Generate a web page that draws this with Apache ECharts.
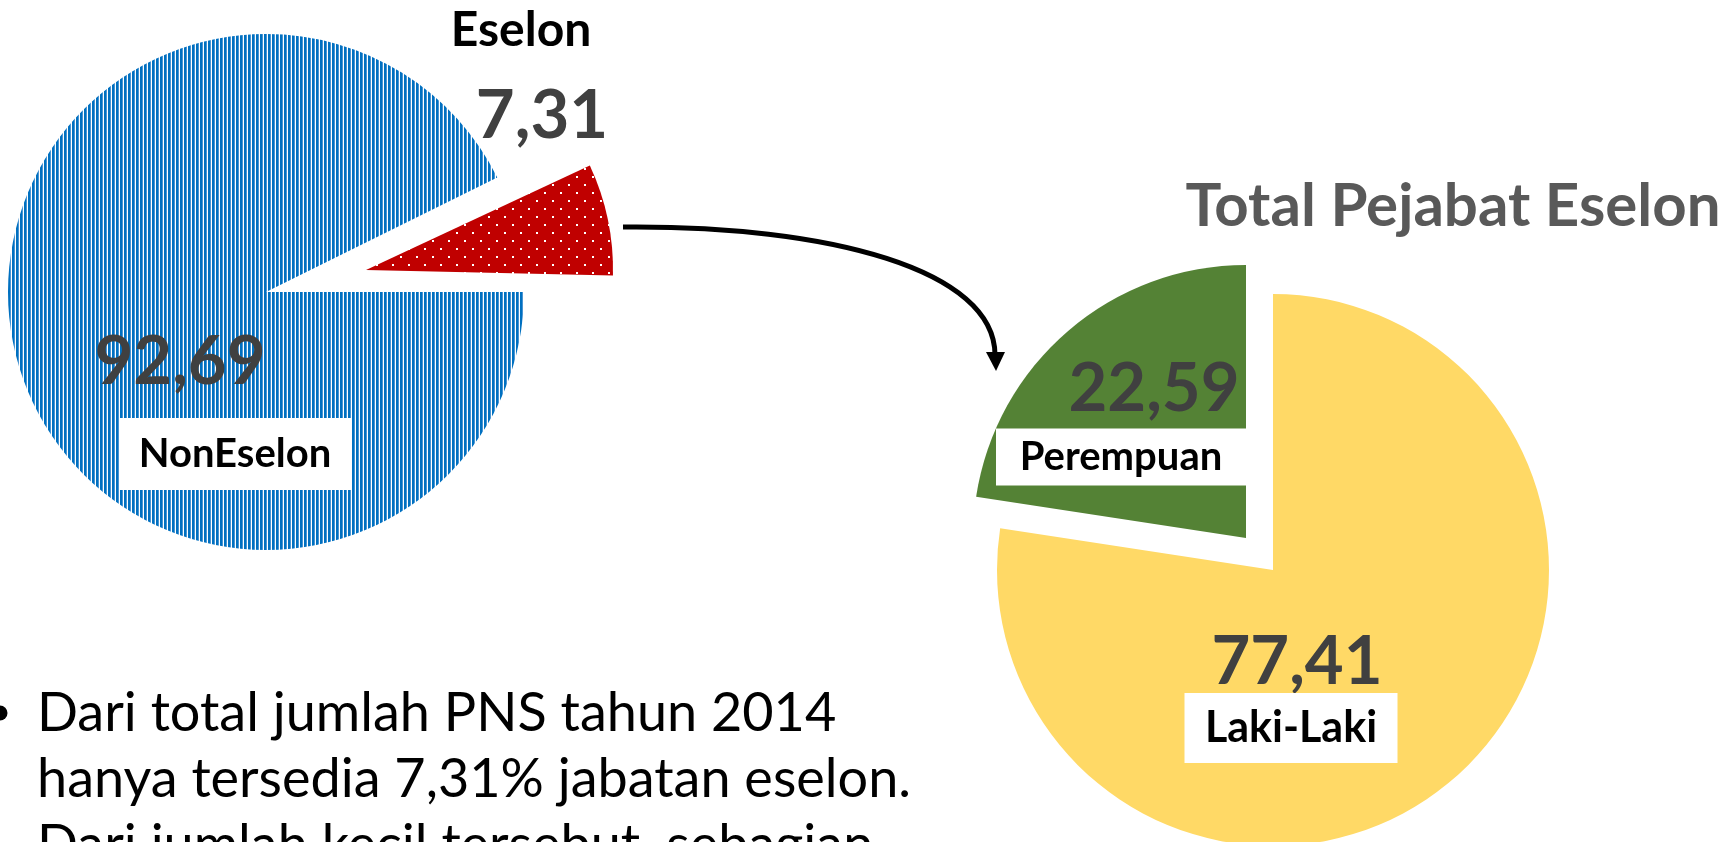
<!DOCTYPE html>
<html><head><meta charset="utf-8">
<script src="https://cdn.jsdelivr.net/npm/echarts@6/dist/echarts.min.js"></script>
<style>html,body{margin:0;padding:0;background:#fff}#c{width:1733px;height:842px}</style>
</head><body><div id="c"></div>
<script>
// ---- data ----
const eselonNames = ['Eselon', 'NonEselon'];
const eselonValues = [7.31, 92.69];
const genderNames = ['Perempuan', 'Laki-Laki'];
const genderValues = [22.59, 77.41];
const chartTitle = 'Total Pejabat Eselon';
const noteLines = ['Dari total jumlah PNS tahun 2014', 'hanya tersedia 7,31% jabatan eselon.', 'Dari jumlah kecil tersebut, sebagian'];

const FONT = 'Lato, "Open Sans", sans-serif';
const fmt = v => v.toFixed(2).replace('.', ',');
const sum = a => a.reduce((s, v) => s + v, 0);

function stripeTile() {
  const c = document.createElement('canvas'); c.width = 4; c.height = 4;
  const g = c.getContext('2d');
  g.fillStyle = '#ffffff'; g.fillRect(0, 0, 4, 4);
  g.fillStyle = '#0070C0'; g.fillRect(0, 0, 2, 4);
  g.fillStyle = '#4a95d3'; g.fillRect(2, 0, 1, 4);
  return c;
}
function dotTile() {
  const c = document.createElement('canvas'); c.width = 16; c.height = 16;
  const g = c.getContext('2d');
  g.fillStyle = '#C00000'; g.fillRect(0, 0, 16, 16);
  g.fillStyle = '#ffffff'; g.fillRect(0, 0, 2, 2); g.fillRect(8, 8, 2, 2);
  return c;
}
const bluePattern = { image: stripeTile(), repeat: 'repeat' };
const redPattern = { image: dotTile(), repeat: 'repeat' };
const CLEAR = 'rgba(0,0,0,0)';

const eselonStart = 360 * eselonValues[0] / sum(eselonValues);
const genderStart = 90 + 360 * genderValues[0] / sum(genderValues);

const valueLabel = { show: true, position: 'inside', formatter: p => fmt(p.value), fontSize: 67, fontWeight: 'bold', color: '#404040', fontFamily: FONT };
const boxLabel = (w, h, fs) => ({ show: true, position: 'inside', formatter: '{b}', fontSize: fs, fontWeight: 'bold', color: '#000', fontFamily: FONT, backgroundColor: '#fff', width: w, height: h, lineHeight: h, align: 'center', verticalAlign: 'middle', padding: 0 });

function at(pos) {
  return p => { const q = pos[p.dataIndex]; return q ? { x: q[0], y: q[1], align: 'center', verticalAlign: 'middle' } : {}; };
}
function base(extra) {
  return Object.assign({ type: 'pie', silent: true, animation: false, clockwise: true, avoidLabelOverlap: false,
    labelLine: { show: false }, emphasis: { disabled: true }, itemStyle: { borderWidth: 0 } }, extra);
}

function items(names, values, colors, labels) {
  return names.map((n, i) => ({ name: n, value: values[i], itemStyle: { color: colors[i] }, label: labels[i] }));
}

const series = [
  // NonEselon (main pie)
  base({ center: [266, 292], radius: 258, startAngle: eselonStart,
    data: items(eselonNames, eselonValues, [CLEAR, bluePattern], [{ show: false }, valueLabel]),
    labelLayout: at({ 1: [180, 362] }) }),
  // Eselon (exploded slice)
  base({ center: [366, 270], radius: 247, startAngle: eselonStart - 1.3,
    data: items(eselonNames, eselonValues, [redPattern, CLEAR], [valueLabel, { show: false }]),
    labelLayout: at({ 0: [542, 116] }) }),
  // Eselon names
  base({ center: [266, 292], radius: 258, startAngle: eselonStart,
    data: items(eselonNames, eselonValues, [CLEAR, CLEAR], [
      { show: true, position: 'inside', formatter: '{b}', fontSize: 48, fontWeight: 'bold', color: '#000', fontFamily: FONT },
      boxLabel(232, 72, 40)]),
    labelLayout: at({ 0: [521, 31], 1: [235, 454] }) }),
  // Laki-Laki (main pie)
  base({ center: [1273, 570], radius: 276, startAngle: genderStart,
    data: items(genderNames, genderValues, [CLEAR, '#FFD966'], [{ show: false }, valueLabel]),
    labelLayout: at({ 1: [1297, 662] }) }),
  // Perempuan (exploded slice)
  base({ center: [1246, 538], radius: 273, startAngle: genderStart,
    data: items(genderNames, genderValues, ['#548235', CLEAR], [valueLabel, { show: false }]),
    labelLayout: at({ 0: [1154, 389] }) }),
  // gender names
  base({ center: [1273, 570], radius: 276, startAngle: genderStart,
    data: items(genderNames, genderValues, [CLEAR, CLEAR], [boxLabel(250, 57, 40), boxLabel(213, 70, 43)]),
    labelLayout: at({ 0: [1121, 457], 1: [1291, 728] }) })
];

const graphic = [
  { type: 'text', style: { x: 1453, y: 207, text: chartTitle, fontSize: 60, fontWeight: 'bold', fontFamily: FONT, fill: '#595959', align: 'center', verticalAlign: 'middle' } },
  { type: 'circle', shape: { cx: 0, cy: 713, r: 7.5 }, style: { fill: '#000' } },
  ...noteLines.map((t, i) => ({ type: 'text', style: { x: 37, y: 714 + i * 66, text: t, fontSize: 54, fontFamily: FONT, fill: '#000', align: 'left', verticalAlign: 'middle' } })),
  { type: 'bezierCurve', shape: { x1: 623, y1: 227, cpx1: 830, cpy1: 225, cpx2: 995, cpy2: 270, x2: 995, y2: 355 }, style: { stroke: '#000', lineWidth: 5, fill: 'none' } },
  { type: 'polygon', shape: { points: [[986, 352], [1005, 352], [996, 371]] }, style: { fill: '#000' } }
];

const chart = echarts.init(document.getElementById('c'));
chart.setOption({ backgroundColor: '#fff', animation: false, series, graphic });
</script></body></html>
